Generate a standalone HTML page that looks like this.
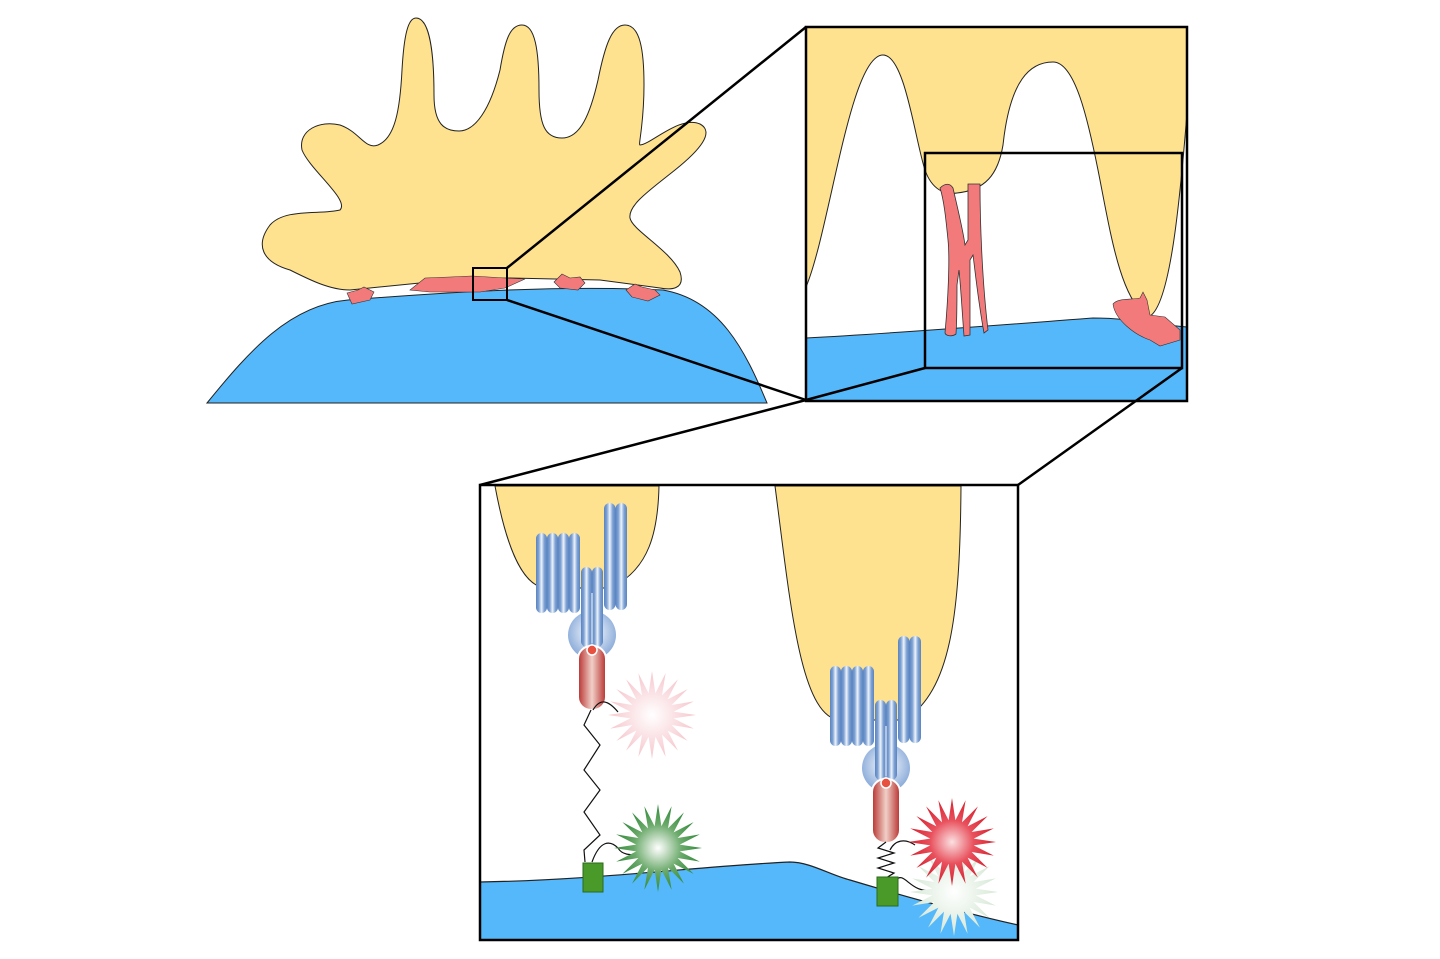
<!DOCTYPE html>
<html><head><meta charset="utf-8"><style>html,body{margin:0;padding:0;background:#fff;}svg{display:block}</style></head>
<body>
<svg width="1440" height="959" viewBox="0 0 1440 959" xmlns="http://www.w3.org/2000/svg">
<defs>
<linearGradient id="ring" x1="0" x2="1" y1="0" y2="0">
<stop offset="0" stop-color="#5a84c0"/><stop offset="0.25" stop-color="#7ea2d4"/><stop offset="0.5" stop-color="#eef3fb"/><stop offset="0.75" stop-color="#7ea2d4"/><stop offset="1" stop-color="#5a84c0"/></linearGradient>
<radialGradient id="sph" cx="0.5" cy="0.45" r="0.6"><stop offset="0" stop-color="#ffffff"/><stop offset="1" stop-color="#7fa3d6"/></radialGradient>
<linearGradient id="cap" x1="0" x2="1"><stop offset="0" stop-color="#b8302e"/><stop offset="0.5" stop-color="#f1d0c8"/><stop offset="1" stop-color="#b8302e"/></linearGradient>
<radialGradient id="pinkS"><stop offset="0" stop-color="#fff"/><stop offset="1" stop-color="#f6c6cc"/></radialGradient>
<radialGradient id="greenS"><stop offset="0" stop-color="#fff"/><stop offset="0.55" stop-color="#6aa96a"/><stop offset="1" stop-color="#2f8a3a"/></radialGradient>
<radialGradient id="redS"><stop offset="0" stop-color="#fbe0e2"/><stop offset="0.5" stop-color="#e8505c"/><stop offset="1" stop-color="#d8202e"/></radialGradient>
<radialGradient id="fadeS"><stop offset="0" stop-color="#fff"/><stop offset="1" stop-color="#d6e8d6"/></radialGradient>
<polygon id="star" points="44,0 21.7,3.4 41.8,13.6 19.6,10 35.6,25.9 15.6,15.6 25.9,35.6 10,19.6 13.6,41.8 3.4,21.7 0,44 -3.4,21.7 -13.6,41.8 -10,19.6 -25.9,35.6 -15.6,15.6 -35.6,25.9 -19.6,10 -41.8,13.6 -21.7,3.4 -44,0 -21.7,-3.4 -41.8,-13.6 -19.6,-10 -35.6,-25.9 -15.6,-15.6 -25.9,-35.6 -10,-19.6 -13.6,-41.8 -3.4,-21.7 0,-44 3.4,-21.7 13.6,-41.8 10,-19.6 25.9,-35.6 15.6,-15.6 35.6,-25.9 19.6,-10 41.8,-13.6 21.7,-3.4"/>
<g id="prot">
<rect x="0" y="0" width="11" height="80" rx="5.5" fill="url(#ring)"/>
<rect x="11" y="0" width="11" height="80" rx="5.5" fill="url(#ring)"/>
<rect x="22" y="0" width="11" height="80" rx="5.5" fill="url(#ring)"/>
<rect x="33" y="0" width="11" height="80" rx="5.5" fill="url(#ring)"/>
<rect x="68" y="-30" width="11.5" height="107" rx="5.75" fill="url(#ring)"/>
<rect x="79.5" y="-30" width="11.5" height="107" rx="5.75" fill="url(#ring)"/>
<circle cx="56" cy="102" r="24" fill="url(#sph)"/>
<rect x="45" y="34" width="11" height="80" rx="5.5" fill="url(#ring)"/>
<rect x="56" y="34" width="11" height="80" rx="5.5" fill="url(#ring)"/>
<line x1="56" y1="60" x2="56" y2="110" stroke="#fff" stroke-width="1"/>
<rect x="42" y="113" width="28" height="64" rx="13" fill="url(#cap)" stroke="#fff" stroke-width="2"/>
<circle cx="56" cy="117" r="5" fill="#e85040" stroke="#fff" stroke-width="1.5"/>
</g>
</defs>

<path d="M207,403 C250,350 290,305 348,300 C450,292 560,285 663,290 C720,300 745,350 767,403 Z" fill="#55b8fb" stroke="#222" stroke-width="1"/>
<path d="M290,270 C262,262 255,245 270,225 C285,208 320,215 340,210 C350,200 310,170 302,150 C298,130 320,120 340,125 C360,132 365,150 378,145 C395,138 400,110 402,70 C404,35 408,18 416,18 C430,18 434,55 434,95 C434,125 445,131 459,131 C475,131 490,110 500,70 C505,40 510,25 522,25 C535,25 539,50 539,90 C539,125 545,138 562,138 C580,138 590,115 598,80 C605,45 612,25 625,25 C640,25 644,50 644,85 C644,125 638,145 640,145 C650,145 680,115 700,124 C715,132 700,150 675,170 C650,190 628,205 630,218 C632,230 670,250 680,272 C686,290 670,290 660,288 L600,280 L510,278 L430,282 L350,290 C330,290 310,280 290,270 Z" fill="#fee28f" stroke="#222" stroke-width="1"/>
<path d="M347,293 L358,290 L364,287 L374,292 L370,300 L352,304 Z" fill="#f27a7a" stroke="#333" stroke-width="0.6"/>
<path d="M410,290 L425,278 L450,277 L472,276 L505,278 L525,279 L505,288 L480,292 L430,292 Z" fill="#f27a7a" stroke="#333" stroke-width="0.6"/>
<path d="M554,282 L562,274 L570,278 L580,277 L585,283 L578,290 L560,288 Z" fill="#f27a7a" stroke="#333" stroke-width="0.6"/>
<path d="M626,290 L635,284 L642,287 L655,290 L660,295 L648,301 L632,297 Z" fill="#f27a7a" stroke="#333" stroke-width="0.6"/>
<rect x="473" y="268" width="34" height="32" fill="none" stroke="#000" stroke-width="2"/>
<line x1="507" y1="268" x2="806" y2="27" stroke="#000" stroke-width="2.5"/>
<line x1="507" y1="300" x2="806" y2="400" stroke="#000" stroke-width="2.5"/>

<rect x="806" y="27" width="381" height="374" fill="#fee28f"/>
<path d="M806,287 C830,230 850,55 883,55 C905,55 915,140 925,170 C932,190 945,195 957,193 C985,190 998,175 1003,145 C1010,80 1030,62 1053,62 C1075,62 1088,120 1098,170 C1110,230 1120,300 1148,317 C1170,310 1180,200 1187,113 L1187,401 L806,401 Z" fill="#fff" stroke="#222" stroke-width="1"/>
<path d="M806,338 C900,333 1000,325 1093,318 C1130,318 1160,325 1187,327 L1187,401 L806,401 Z" fill="#55b8fb" stroke="#222" stroke-width="1"/>
<path d="M940,188 C945,183 950,183 953,188 C958,210 963,230 965,245 L968,240 L968,184 L980,184 C980,220 982,280 988,330 L984,333 C978,300 975,270 973,255 L970,260 C970,290 970,315 970,335 L964,336 C962,310 961,290 959,270 L957,285 C957,300 957,320 956,334 C952,337 946,336 945,333 C948,300 950,260 948,240 C946,220 944,200 940,188 Z" fill="#f27a7a" stroke="#333" stroke-width="0.8"/>
<path d="M1113,304 C1118,298 1130,300 1140,298 L1143,292 L1147,300 L1150,315 L1165,317 L1180,330 L1180,340 L1160,346 L1150,340 C1135,335 1115,320 1113,304 Z" fill="#f27a7a" stroke="#333" stroke-width="0.6"/>
<rect x="925" y="153" width="257" height="215" fill="none" stroke="#000" stroke-width="2.5"/>
<rect x="806" y="27" width="381" height="374" fill="none" stroke="#000" stroke-width="2.5"/>
<line x1="925" y1="368" x2="806" y2="400" stroke="#000" stroke-width="2.5"/>
<line x1="1182" y1="368" x2="1018" y2="485" stroke="#000" stroke-width="2.5"/>
<line x1="806" y1="400" x2="480" y2="485" stroke="#000" stroke-width="2.5"/>

<path d="M495,486 C505,540 520,585 545,588 L610,588 C650,570 658,530 659,486 Z" fill="#fee28f" stroke="#222" stroke-width="1"/>
<path d="M775,486 C790,600 800,718 840,720 L905,720 C950,690 960,620 961,486 Z" fill="#fee28f" stroke="#222" stroke-width="1"/>
<path d="M480,882 C600,880 700,866 790,862 C810,862 830,875 850,880 C900,895 960,912 1018,925 L1018,940 L480,940 Z" fill="#55b8fb" stroke="#222" stroke-width="1.2"/>

<use href="#prot" x="536" y="533"/>
<use href="#prot" x="830" y="666"/>

<polyline points="591,710 584,725 600,745 584,770 600,790 584,812 600,835 584,850 585,862" fill="none" stroke="#111" stroke-width="1.2"/>
<path d="M593,710 C600,698 608,700 618,712" fill="none" stroke="#111" stroke-width="1.2"/>
<path d="M592,862 C600,840 610,840 618,848 C622,855 630,855 640,855" fill="none" stroke="#111" stroke-width="1.2"/>
<polyline points="886,842 878,848 894,853 878,858 894,863 878,868 894,873 886,878" fill="none" stroke="#111" stroke-width="1.2"/>
<path d="M890,850 C895,840 905,838 915,845" fill="none" stroke="#111" stroke-width="1.2"/>
<path d="M896,880 C905,870 910,895 935,890" fill="none" stroke="#111" stroke-width="1.2"/>

<use href="#star" x="652" y="715" fill="url(#pinkS)"/>
<use href="#star" x="954" y="892" fill="url(#fadeS)"/>
<use href="#star" x="658" y="848" fill="url(#greenS)"/>
<use href="#star" x="952" y="842" fill="url(#redS)"/>

<rect x="583" y="863" width="20" height="29" fill="#4a9a2a" stroke="#2a6a1a" stroke-width="1"/>
<rect x="877" y="877" width="21" height="29" fill="#4a9a2a" stroke="#2a6a1a" stroke-width="1"/>

<rect x="480" y="485" width="538" height="455" fill="none" stroke="#000" stroke-width="2.5"/>
</svg>
</body></html>
